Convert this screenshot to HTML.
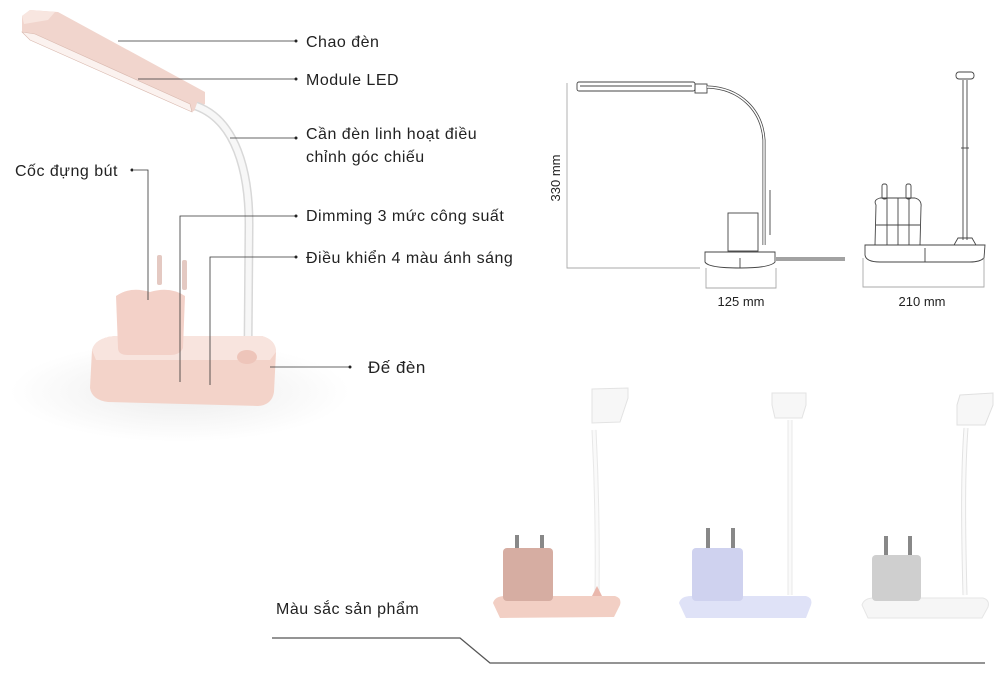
<!DOCTYPE html>
<html><head><meta charset="utf-8"><style>
html,body{margin:0;padding:0;background:#fff;}
svg{display:block;font-family:"Liberation Sans","DejaVu Sans",sans-serif;}
</style></head><body>
<svg width="1000" height="679" viewBox="0 0 1000 679" xmlns="http://www.w3.org/2000/svg">
<defs>
<radialGradient id="sh" cx="0.5" cy="0.5" r="0.5"><stop offset="0" stop-color="#ececec"/><stop offset="1" stop-color="#fff"/></radialGradient>
</defs>
<rect width="1000" height="679" fill="#fff"/>
<ellipse cx="180" cy="392" rx="170" ry="50" fill="url(#sh)"/>
<!-- head -->
<polygon points="22,16 30,10 58,12 205,92 205,104 192,112 30,40 22,32" fill="#f1d5cd"/>
<polygon points="22,32 30,40 192,112 190,104 35,34" fill="#fbf2ef" stroke="#d9b9af" stroke-width="0.6"/>
<polygon points="22,16 30,10 55,12 48,20 24,24" fill="#f8e6e0"/>
<!-- arm -->
<path d="M196,106 C235,120 250,170 249,230 L248,352" fill="none" stroke="#d8d8d8" stroke-width="9"/>
<path d="M196,106 C235,120 250,170 249,230 L248,352" fill="none" stroke="#f7f7f7" stroke-width="6"/>
<!-- base -->
<path d="M92,350 Q95,338 115,336 L262,336 Q276,340 276,352 L274,392 Q272,405 258,406 L108,402 Q92,400 90,388 Z" fill="#f3d3c9"/>
<path d="M92,350 Q95,338 115,336 L262,336 Q276,340 276,352 L270,360 L96,360 Z" fill="#f8e4de"/>
<ellipse cx="247" cy="357" rx="10" ry="7" fill="#eec5ba"/>
<!-- cup -->
<rect x="157" y="255" width="5" height="30" rx="2" fill="#e4c9c2"/>
<rect x="182" y="260" width="5" height="30" rx="2" fill="#e4c9c2"/>
<path d="M116,296 Q130,286 150,292 Q170,286 185,296 L183,348 Q180,355 170,355 L128,355 Q118,355 118,348 Z" fill="#f3d1c8"/>
<!-- leader lines -->
<g stroke="#333" stroke-width="0.8" fill="none">
<line x1="118" y1="41" x2="295" y2="41"/>
<line x1="138" y1="79" x2="295" y2="79"/>
<line x1="230" y1="138" x2="295" y2="138"/>
<polyline points="134,170 148,170 148,300"/>
<polyline points="295,216 180,216 180,382"/>
<polyline points="295,257 210,257 210,385"/>
<line x1="270" y1="367" x2="350" y2="367"/>
</g>
<g fill="#222">
<circle cx="296" cy="41" r="1.5"/><circle cx="296" cy="79" r="1.5"/><circle cx="296" cy="138" r="1.5"/>
<circle cx="132" cy="170" r="1.5"/><circle cx="296" cy="216" r="1.5"/><circle cx="296" cy="257" r="1.5"/><circle cx="350" cy="367" r="1.5"/>
</g>
<g font-size="16" fill="#222" letter-spacing="0.5">
<text x="306" y="47">Chao đèn</text>
<text x="306" y="85">Module LED</text>
<text x="306" y="139">Cần đèn linh hoạt điều</text>
<text x="306" y="162">chỉnh góc chiếu</text>
<text x="15" y="176">Cốc đựng bút</text>
<text x="306" y="221">Dimming 3 mức công suất</text>
<text x="306" y="263">Điều khiển 4 màu ánh sáng</text>
<text x="368" y="373" font-size="17">Đế đèn</text>
</g>
<!-- technical drawing -->
<g stroke="#444" stroke-width="0.9" fill="none">
<rect x="577" y="82" width="118" height="9" rx="2"/>
<line x1="580" y1="86" x2="692" y2="86"/>
<rect x="695" y="84" width="12" height="9"/>
<path d="M707,87 C740,88 762,110 764,140 L764,245" stroke-width="3"/>
<path d="M707,87 C740,88 762,110 764,140 L764,245" stroke="#fff" stroke-width="1.5"/>
<rect x="728" y="213" width="30" height="38"/>
<line x1="770" y1="190" x2="770" y2="235"/>
<path d="M705,252 L775,252 L775,262 Q770,268 740,268 Q708,268 705,262 Z"/>
<line x1="740" y1="258" x2="740" y2="268"/>
<line x1="776" y1="258" x2="845" y2="258"/>
<line x1="776" y1="260" x2="845" y2="260"/>
<rect x="956" y="72" width="18" height="7" rx="3"/>
<line x1="963" y1="80" x2="963" y2="240"/><line x1="967" y1="80" x2="967" y2="240"/>
<line x1="961" y1="148" x2="969" y2="148"/>
<path d="M958,238 L972,238 L976,245 L954,245 Z"/>
<path d="M865,245 L985,245 L984,258 Q980,262 970,262 L880,262 Q866,262 865,255 Z"/>
<line x1="925" y1="248" x2="925" y2="262"/>
<path d="M876,205 Q873,200 880,198 L915,198 Q922,200 921,207 L920,245 L875,245 Z"/>
<line x1="887" y1="198" x2="887" y2="245"/><line x1="898" y1="198" x2="898" y2="245"/><line x1="909" y1="198" x2="909" y2="245"/>
<line x1="876" y1="225" x2="920" y2="225"/>
<rect x="882" y="184" width="5" height="15" rx="2"/><rect x="906" y="184" width="5" height="15" rx="2"/>
</g>
<g stroke="#aaa" stroke-width="0.9" fill="none">
<polyline points="567,83 567,268 700,268"/>
<polyline points="706,268 706,288 776,288 776,268"/>
<polyline points="863,258 863,287 984,287 984,258"/>
</g>
<g font-size="13" fill="#222">
<text x="741" y="306" text-anchor="middle">125 mm</text>
<text x="922" y="306" text-anchor="middle">210 mm</text>
<text transform="translate(560,178) rotate(-90)" text-anchor="middle">330 mm</text>
</g>
<!-- color variants -->
<g>
<path d="M594,430 C596,470 598,520 597,595" stroke="#e8e8e8" stroke-width="5" fill="none"/>
<path d="M594,430 C596,470 598,520 597,595" stroke="#fafafa" stroke-width="3" fill="none"/>
<polygon points="592,389 628,388 628,398 620,422 592,423" fill="#f7f7f7" stroke="#e3e3e3"/>
<path d="M493,603 Q495,596 505,596 L615,596 Q622,598 620,605 L614,617 L500,618 Z" fill="#f2cfc4"/>
<path d="M592,596 L597,586 L602,596 Z" fill="#eab8ad"/>
<rect x="515" y="535" width="4" height="18" fill="#888"/><rect x="540" y="535" width="4" height="18" fill="#888"/>
<rect x="503" y="548" width="50" height="53" rx="4" fill="#d6ada2"/>
<path d="M790,420 L790,595" stroke="#e8e8e8" stroke-width="5"/>
<path d="M790,420 L790,595" stroke="#fafafa" stroke-width="3"/>
<polygon points="772,393 806,393 806,405 802,418 775,418 772,405" fill="#f7f7f7" stroke="#e3e3e3"/>
<path d="M679,603 Q681,596 691,596 L806,596 Q813,598 811,605 L806,618 L686,618 Z" fill="#dfe2f7"/>
<rect x="706" y="528" width="4" height="22" fill="#888"/><rect x="731" y="528" width="4" height="22" fill="#888"/>
<rect x="692" y="548" width="51" height="53" rx="4" fill="#cfd2ef"/>
<path d="M966,428 C963,470 963,520 965,595" stroke="#e3e3e3" stroke-width="5" fill="none"/>
<path d="M966,428 C963,470 963,520 965,595" stroke="#fafafa" stroke-width="3" fill="none"/>
<polygon points="960,395 993,393 993,405 985,425 957,425 957,405" fill="#f7f7f7" stroke="#e0e0e0"/>
<path d="M862,605 Q864,598 874,598 L983,598 Q990,600 988,607 L982,618 L868,618 Z" fill="#f6f6f6" stroke="#e6e6e6"/>
<rect x="884" y="536" width="4" height="20" fill="#888"/><rect x="908" y="536" width="4" height="20" fill="#888"/>
<rect x="872" y="555" width="49" height="46" rx="4" fill="#cfcfcf"/>
</g>
<text x="276" y="614" font-size="16" fill="#222" letter-spacing="0.5">Màu sắc sản phẩm</text>
<polyline points="272,638 460,638 490,663 985,663" stroke="#555" stroke-width="1.3" fill="none"/>
</svg>
</body></html>
